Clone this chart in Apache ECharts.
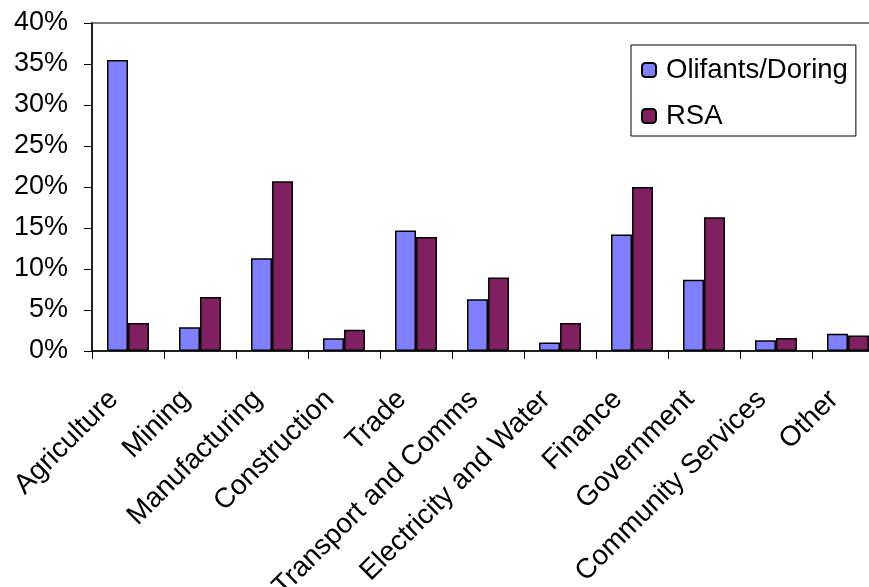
<!DOCTYPE html>
<html>
<head>
<meta charset="utf-8">
<script src="https://cdn.jsdelivr.net/npm/echarts@6/dist/echarts.min.js"></script>
<style>
html,body{margin:0;padding:0;background:#fff;}
#chart{width:869px;height:587px;}
</style>
</head>
<body>
<div id="chart"></div>
<script>
var categories = ["Agriculture","Mining","Manufacturing","Construction","Trade","Transport and Comms","Electricity and Water","Finance","Government","Community Services","Other"];
var olifantsDoring = [35.5, 2.9, 11.3, 1.55, 14.7, 6.3, 1.05, 14.2, 8.7, 1.3, 2.1];
var rsa = [3.4, 6.6, 20.7, 2.6, 13.9, 8.95, 3.4, 20.0, 16.3, 1.6, 1.9];
var seriesNames = ["Olifants/Doring", "RSA"];

var FONT = "'Liberation Sans', Arial, sans-serif";
var chart = echarts.init(document.getElementById('chart'), null, {renderer: 'canvas'});
chart.setOption({
  animation: false,
  backgroundColor: '#ffffff',
  textStyle: {fontFamily: FONT, color: '#000'},
  grid: {
    left: 92, top: 23, bottom: 236, right: -15,
    containLabel: false,
    outerBoundsMode: 'none',
    show: true, borderColor: '#808080', borderWidth: 2, backgroundColor: 'transparent'
  },
  legend: {
    orient: 'vertical',
    left: 631, top: 45,
    padding: [11, 8, 6, 10],
    itemWidth: 14, itemHeight: 14,
    itemGap: 18,
    borderColor: '#000', borderWidth: 1,
    backgroundColor: '#fff',
    textStyle: {fontFamily: FONT, fontSize: 27.5, color: '#000', padding: [0,0,0,5]},
    data: seriesNames
  },
  xAxis: {
    type: 'category',
    data: categories,
    axisLine: {lineStyle: {color: '#000', width: 1.5}},
    axisTick: {show: true, alignWithLabel: false, length: 8, lineStyle: {color: '#000'}},
    axisLabel: {rotate: 45, fontFamily: FONT, fontSize: 28, color: '#000', margin: 30, interval: 0, padding: [0, 20, 0, 0]}
  },
  yAxis: {
    type: 'value',
    min: 0, max: 40, interval: 5,
    axisLine: {show: true, lineStyle: {color: '#000', width: 1.5}},
    axisTick: {show: true, length: 8, lineStyle: {color: '#000'}},
    splitLine: {show: false},
    axisLabel: {formatter: '{value}%', fontFamily: FONT, fontSize: 27, color: '#000', margin: 24}
  },
  series: [
    {
      name: seriesNames[0], type: 'bar', data: olifantsDoring,
      barGap: '0%', barCategoryGap: '41.7%',
      itemStyle: {color: '#8080FF', borderColor: '#000', borderWidth: 1.5}
    },
    {
      name: seriesNames[1], type: 'bar', data: rsa,
      barGap: '0%', barCategoryGap: '41.7%',
      itemStyle: {color: '#802060', borderColor: '#000', borderWidth: 1.5}
    }
  ]
});
</script>
</body>
</html>
